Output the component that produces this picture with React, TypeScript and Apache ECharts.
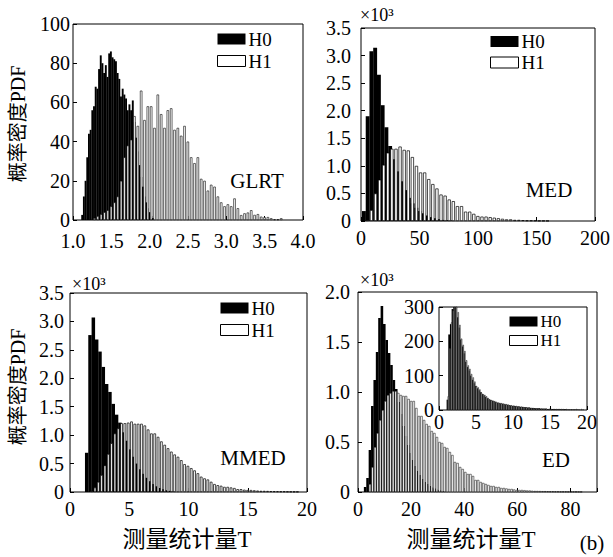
import React, { useEffect, useRef } from "react";
import * as echarts from "echarts";

// ---------------- data (bin start, bin width, counts) ----------------
// GLRT
const glrtH0Start = 1.12;
const glrtH0Bin = 0.022;
const glrtH0 = [2.6, 12, 20, 32, 44, 46, 56, 58, 68, 67, 77, 84, 80, 75, 79, 73, 85, 86, 83, 82, 81, 75, 72, 63, 67, 64, 62, 56, 59, 56, 61, 50, 42, 35, 28, 22, 17, 12, 9, 6, 4, 2, 1];
const glrtH1Start = 1.28;
const glrtH1Bin = 0.0435;
const glrtH1 = [1, 2, 3, 4, 5, 7, 9, 12, 20, 32, 38, 41, 53, 48, 66, 51, 58, 58, 47, 64, 54, 47, 56, 57, 46, 47, 43, 48, 40, 32, 29, 32, 21, 20, 15, 18, 17, 12, 9, 7, 8, 7, 11, 6, 2.5, 3.4, 3.8, 5, 2.6, 3, 1.7, 1.4, 1.5, 0.9, 0.3, 0.3, 0.9];

// MED (x10^3)
const medH0Start = 2.5;
const medH0Bin = 3.2;
const medH0 = [0.18, 1.9, 3.08, 3.14, 2.65, 2.1, 1.7, 1.36, 1.12, 0.9, 0.72, 0.56, 0.42, 0.32, 0.24, 0.18, 0.14, 0.1, 0.07, 0.05, 0.035, 0.02, 0.015, 0.01];
const medH1Start = 5.4;
const medH1Bin = 3.5;
const medH1 = [0.02, 0.2, 0.5, 0.75, 1.02, 1.24, 1.31, 1.31, 1.35, 1.29, 1.28, 1.16, 1.0, 0.88, 0.88, 0.76, 0.67, 0.59, 0.48, 0.46, 0.39, 0.36, 0.27, 0.27, 0.17, 0.17, 0.13, 0.09, 0.08, 0.08, 0.07, 0.06, 0.05, 0.04, 0.03, 0.03, 0.02, 0.02, 0.015, 0.01, 0.01, 0.008, 0.005, 0.004, 0.003];

// MMED (x10^3)
const mmedH0Start = 1.41;
const mmedH0Bin = 0.28;
const mmedH0 = [0.69, 2.76, 3.07, 2.68, 2.47, 2.2, 1.9, 1.76, 1.55, 1.36, 1.22, 1.05, 0.9, 0.75, 0.62, 0.5, 0.4, 0.32, 0.25, 0.19, 0.14, 0.1, 0.07, 0.05, 0.03, 0.02, 0.01];
const mmedH1Start = 1.83;
const mmedH1Bin = 0.28;
const mmedH1 = [0.02, 0.08, 0.18, 0.3, 0.47, 0.67, 0.86, 1.03, 1.12, 1.21, 1.21, 1.22, 1.24, 1.2, 1.2, 1.2, 1.17, 1.1, 1.03, 1.03, 0.97, 0.89, 0.83, 0.77, 0.71, 0.66, 0.62, 0.56, 0.49, 0.46, 0.42, 0.38, 0.33, 0.27, 0.24, 0.22, 0.18, 0.14, 0.12, 0.11, 0.09, 0.09, 0.08, 0.07, 0.05, 0.05, 0.04, 0.035, 0.035, 0.03, 0.025, 0.02, 0.02, 0.018, 0.015, 0.013, 0.012, 0.01, 0.01, 0.008, 0.007, 0.006, 0.005];

// ED (x10^3)
const edH0Start = 2.7;
const edH0Bin = 0.9;
const edH0 = [0.05, 0.14, 0.42, 0.86, 1.12, 1.4, 1.74, 1.86, 1.68, 1.52, 1.39, 1.27, 1.12, 1.03, 0.9, 0.78, 0.66, 0.56, 0.47, 0.39, 0.32, 0.26, 0.21, 0.17, 0.13, 0.1, 0.08, 0.06, 0.045, 0.035, 0.025, 0.018, 0.012, 0.008];
const edH1Start = 4.5;
const edH1Bin = 0.97;
const edH1 = [0.08, 0.25, 0.45, 0.59, 0.72, 0.82, 0.91, 0.97, 0.99, 1.01, 1.01, 0.99, 0.97, 0.96, 0.96, 0.93, 0.91, 0.91, 0.84, 0.76, 0.76, 0.72, 0.68, 0.66, 0.61, 0.59, 0.55, 0.5, 0.49, 0.45, 0.44, 0.4, 0.37, 0.3, 0.29, 0.25, 0.23, 0.2, 0.18, 0.18, 0.16, 0.12, 0.12, 0.1, 0.09, 0.08, 0.07, 0.06, 0.06, 0.05, 0.05, 0.04, 0.04, 0.035, 0.03, 0.03, 0.025, 0.02, 0.02, 0.02, 0.018, 0.015, 0.015, 0.012, 0.01, 0.01, 0.009, 0.008, 0.008, 0.007, 0.006, 0.006, 0.005, 0.005, 0.004, 0.004, 0.004, 0.003, 0.003, 0.003, 0.003, 0.002, 0.002];

// ED inset
const insetH0Start = 1.15;
const insetH0Bin = 0.225;
const insetH0 = [30, 220, 250, 294, 310, 300, 270, 240, 205, 185, 165, 140, 125, 115, 100, 88, 78, 70, 63, 57, 52, 46, 42, 38, 34, 31, 29, 27, 25, 23, 21, 20, 19, 18, 17, 16, 15, 14, 13, 12, 12, 11, 10, 10, 9, 9, 8, 8, 7, 7, 6, 6, 6, 5, 5, 5, 4, 4, 4, 4, 3, 3, 3, 3, 3, 2, 2, 2, 2, 2, 2, 2, 1, 1, 1, 1, 1, 1, 1];
const insetH1Start = 1.25;
const insetH1Bin = 0.225;
const insetH1 = [40, 180, 255, 290, 320, 330, 285, 248, 208, 190, 172, 145, 130, 120, 105, 95, 83, 70, 66, 60, 50, 46, 44, 40, 35, 31, 29, 27, 26, 24, 22, 21, 20, 19, 18, 17, 16, 14, 14, 13, 12, 12, 11, 10, 10, 9, 8, 8, 7, 7, 6, 6, 5, 5, 5, 4, 4, 4, 4, 4, 3, 4, 3, 3, 3, 3, 3, 3, 3, 3, 2, 3, 2, 2, 2, 2, 2, 3, 2, 2, 3, 2];

// labels
const panelNames = ["GLRT", "MED", "MMED", "ED"];
const yTitle = "概率密度PDF";
const xTitle = "测量统计量T";
const scaleNote = "×10³";
const legendNames = ["H0", "H1"];

// ---------------- helpers ----------------
const SERIF = "'Liberation Serif', 'Times New Roman', serif";
const CJK = "'Liberation Serif', 'Noto Sans CJK SC', serif";

const toBins = (start: number, step: number, vals: number[]) =>
  vals.map((v, i) => [+(start + i * step).toFixed(4), v]);

const fmt1 = (v: number) => (v === 0 ? "0" : v.toFixed(1));
const fmtInt = (v: number) => String(Math.round(v));

const panels = [
  {
    grid: { left: 73, top: 24, width: 230, height: 196 },
    xMin: 1, xMax: 4, xInt: 0.5, xFmt: (v: number) => v.toFixed(1),
    yMax: 100, yInt: 20, yFmt: fmtInt, yMargin: 3, xMargin: 11,
    h0: toBins(glrtH0Start, glrtH0Bin, glrtH0), h1: toBins(glrtH1Start, glrtH1Bin, glrtH1),
    w0: 1.9, w1: 2.4, bw: 0.6,
  },
  {
    grid: { left: 361, top: 28, width: 235, height: 193 },
    xMin: 0, xMax: 200, xInt: 50, xFmt: fmtInt,
    yMax: 3.5, yInt: 0.5, yFmt: fmt1, yMargin: 10, xMargin: 7,
    h0: toBins(medH0Start, medH0Bin, medH0), h1: toBins(medH1Start, medH1Bin, medH1),
    w0: 3.9, w1: 3.2, bw: 0.7,
  },
  {
    grid: { left: 70, top: 293, width: 237, height: 199 },
    xMin: 0, xMax: 20, xInt: 5, xFmt: fmtInt,
    yMax: 3.5, yInt: 0.5, yFmt: fmt1, yMargin: 6, xMargin: 7,
    h0: toBins(mmedH0Start, mmedH0Bin, mmedH0), h1: toBins(mmedH1Start, mmedH1Bin, mmedH1),
    w0: 3.5, w1: 2.6, bw: 0.7,
  },
  {
    grid: { left: 358, top: 292, width: 239, height: 200 },
    xMin: 0, xMax: 90, xInt: 20, xFmt: (v: number) => (v % 20 === 0 ? String(v) : ""),
    yMax: 2, yInt: 0.5, yFmt: fmt1, yMargin: 8, xMargin: 7,
    h0: toBins(edH0Start, edH0Bin, edH0), h1: toBins(edH1Start, edH1Bin, edH1),
    w0: 2.6, w1: 2.3, bw: 0.5,
  },
  {
    grid: { left: 439, top: 307, width: 148, height: 103 },
    xMin: 0, xMax: 20, xInt: 5, xFmt: fmtInt,
    yMax: 300, yInt: 100, yFmt: fmtInt, yMargin: 5, xMargin: 2,
    h0: toBins(insetH0Start, insetH0Bin, insetH0), h1: toBins(insetH1Start, insetH1Bin, insetH1),
    w0: 1.8, w1: 1.3, bw: 0.5,
  },
];

const labelStyle = { color: "#000", fontFamily: SERIF, fontSize: 20 };

function buildOption() {
  const grid: any[] = [];
  const xAxis: any[] = [];
  const yAxis: any[] = [];
  const series: any[] = [];
  panels.forEach((p, i) => {
    grid.push({ ...p.grid, show: true, borderColor: "#000", borderWidth: 1, backgroundColor: "transparent", containLabel: false });
    const tick = { show: true, inside: true, length: 4, lineStyle: { color: "#000", width: 1 } };
    xAxis.push({
      type: "value", gridIndex: i, min: p.xMin, max: p.xMax, interval: p.xInt, position: "bottom",
      axisLine: { show: false }, axisTick: tick, splitLine: { show: false },
      axisLabel: { ...labelStyle, margin: p.xMargin, formatter: p.xFmt },
    });
    xAxis.push({
      type: "value", gridIndex: i, min: p.xMin, max: p.xMax, show: false, position: "bottom",
      splitLine: { show: false },
    });
    yAxis.push({
      type: "value", gridIndex: i, min: 0, max: p.yMax, interval: p.yInt,
      axisLine: { show: false }, axisTick: tick, splitLine: { show: false },
      axisLabel: { ...labelStyle, margin: p.yMargin, formatter: p.yFmt },
    });
    series.push({
      type: "bar", name: legendNames[0], xAxisIndex: 2 * i, yAxisIndex: i,
      data: p.h0, barWidth: p.w0, itemStyle: { color: "#000" }, clip: true,
    });
    series.push({
      type: "bar", name: legendNames[1], xAxisIndex: 2 * i + 1, yAxisIndex: i,
      data: p.h1, barWidth: p.w1, clip: true,
      itemStyle: { color: "#fff", borderColor: "#000", borderWidth: p.bw },
    });
  });

  const legendItem = [
    { name: legendNames[0], icon: "rect", itemStyle: { color: "#000", borderWidth: 0 } },
    { name: legendNames[1], icon: "rect", itemStyle: { color: "#fff", borderColor: "#000", borderWidth: 1 } },
  ];
  const mkLegend = (left: number, top: number, lh: number, fs: number, ih: number) => ({
    left, top, orient: "vertical", itemWidth: 28, itemHeight: ih, itemGap: 0, padding: 0,
    selectedMode: false, data: legendItem,
    textStyle: { ...labelStyle, fontSize: fs, lineHeight: lh, padding: [0, 0, 0, -2] },
  });
  const legend = [
    mkLegend(217, 28, 22, 19, 11),
    mkLegend(490, 31, 21, 19, 11),
    mkLegend(220, 297, 22, 19, 11),
    mkLegend(509, 312, 19, 17, 10),
  ];

  const txt = (text: string, x: number, y: number, size: number, align = "center", font = SERIF, rotation = 0) => ({
    type: "text", x, y, rotation,
    style: { text, fill: "#000", font: `${size}px ${font}`, align, verticalAlign: "middle" },
    z: 100,
  });

  const graphic = [
    txt(panelNames[0], 257, 181, 21),
    txt(panelNames[1], 549, 190, 21),
    txt(panelNames[2], 253, 458, 21),
    txt(panelNames[3], 556, 460, 21),
    txt(scaleNote, 360, 15, 18, "left"),
    txt(scaleNote, 72, 284, 18, "left"),
    txt(scaleNote, 360, 280, 18, "left"),
    txt(yTitle, 18, 124, 20, "center", CJK, Math.PI / 2),
    txt(yTitle, 18, 387, 20, "center", CJK, Math.PI / 2),
    txt(xTitle, 187, 539, 23, "center", CJK),
    txt(xTitle, 471, 539, 23, "center", CJK),
    txt("(b)", 592, 543, 21, "center"),
  ];

  return { animation: false, backgroundColor: "#fff", grid, xAxis, yAxis, series, legend, graphic };
}

export default function App() {
  const ref = useRef<HTMLDivElement>(null);
  useEffect(() => {
    if (!ref.current) return;
    const chart = echarts.init(ref.current, null, { renderer: "svg" });
    chart.setOption(buildOption() as any);
    return () => chart.dispose();
  }, []);
  return (
    <div
      ref={ref}
      style={{ position: "absolute", left: 0, top: 0, width: 613, height: 557, background: "#fff" }}
    />
  );
}
